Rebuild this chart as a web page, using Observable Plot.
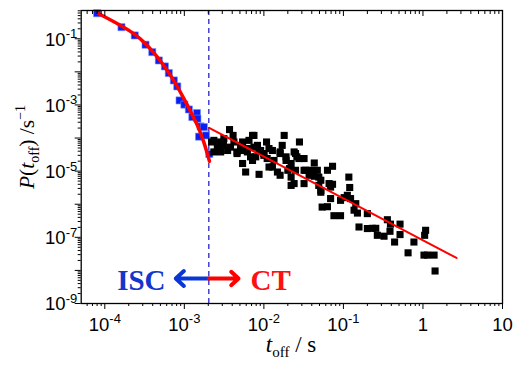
<!DOCTYPE html>
<html><head><meta charset="utf-8">
<script src="https://cdn.jsdelivr.net/npm/d3@7"></script>
<script src="https://cdn.jsdelivr.net/npm/@observablehq/plot@0.6"></script>
<style>body{margin:0;background:#fff} #chart{width:515px;height:365px}</style>
</head><body><div id="chart"></div>
<script>
// ISC data (blue squares)
const iscT = [8.0e-5,1.62e-4,2.38e-4,3.25e-4,3.95e-4,4.78e-4,5.69e-4,6.38e-4,7.38e-4,8.15e-4,8.7e-4,1.0e-3,1.14e-3,1.26e-3,1.44e-3,1.46e-3,1.60e-3,1.76e-3,1.53e-3,1.87e-3,2.06e-3];
const iscP = [0.59,0.224,0.126,0.066,0.0394,0.0221,0.0146,9.2e-3,5.5e-3,3.63e-3,1.37e-3,1.02e-3,7.3e-4,4.3e-4,5.7e-4,3.85e-4,2.25e-4,2.14e-4,1.1e-4,1.2e-4,3.3e-5];
// CT data (black squares)
const ctT = [3.7e-3,7.5e-3,1.8e-2,2.35e-3,2.86e-3,3.14e-3,4.2e-3,5.4e-3,6.5e-3,1.08e-2,2.8e-2,2.6e-3,2.7e-3,3.5e-3,3.8e-3,4.6e-3,5.1e-3,6.2e-3,8.3e-3,9.1e-3,
 1.0e-2,1.16e-2,1.6e-2,2.4e-2,2.6e-2,5.4e-3,5.9e-3,8.7e-3,1.28e-2,1.48e-2,1.6e-2,2.0e-2,2.2e-2,2.4e-2,2.35e-3,1.1e-2,1.34e-2,7.2e-3,7.9e-3,1.9e-2,
 2.2e-2,2.5e-2,2.2e-3,3.2e-2,4.3e-2,7.3e-2,3.2e-2,3.9e-2,4.7e-2,4.3e-2,5.2e-2,3.2e-2,5.2e-2,6.9e-2,7.3e-2,6.3e-2,0.117,0.12,0.112,0.102,
 0.123,0.092,0.143,0.136,0.15,6.9e-2,5.4e-2,6.3e-2,7.6e-2,0.092,0.2,0.157,0.2,0.231,0.255,0.267,0.324,0.357,0.39,0.385,
 0.515,0.515,0.44,0.65,0.77,1.05,1.08,1.03,1.14,1.38,1.42,4.1e-3,2.7e-3,3.1e-3,4.6e-3,7.2e-3,7.5e-3,8.7e-3,1.0e-2,2.86e-3,
 5.1e-3,6.2e-3,6.8e-3,1.7e-2,1.28e-2,1.6e-2,2.5e-2,1.9e-2,2.76e-2,1.16e-2,2.1e-2,3.35e-2,3.7e-2,4.9e-2,2.2e-2,4.9e-2,6.6e-2,5.2e-2];
const ctP = [1.8e-4,1.2e-4,1.2e-4,8.5e-5,7.6e-5,9.6e-5,7.6e-5,7.6e-5,8.5e-5,7.6e-5,7.6e-5,5.3e-5,4.2e-5,4.2e-5,5.3e-5,3.8e-5,4.2e-5,4.8e-5,6.0e-5,4.2e-5,
 3.4e-5,4.8e-5,3.8e-5,3.8e-5,2.7e-5,1.7e-5,9.4e-6,8.0e-6,1.33e-5,9.4e-6,7.5e-6,1.06e-5,6.6e-6,4.2e-6,3.8e-5,2.4e-5,2.1e-5,2.1e-5,2.7e-5,2.1e-5,
 1.7e-5,1.06e-5,7.6e-5,2.4e-5,1.76e-5,1.4e-5,1.06e-5,1.06e-5,1.06e-5,7.0e-6,5.3e-6,4.2e-6,2.6e-6,3.3e-6,4.0e-6,1.06e-5,6.6e-6,3.2e-6,1.86e-6,1.58e-6,
 1.48e-6,1.31e-6,1.04e-6,6.6e-7,5.4e-7,1.48e-6,8.2e-7,8.4e-7,4.5e-7,4.5e-7,5.2e-7,2.05e-7,1.84e-7,1.87e-7,1.87e-7,1.15e-7,1.08e-7,3.4e-7,2.5e-7,1.52e-7,
 2.5e-7,1.21e-7,7.2e-8,3.4e-8,7.2e-8,1.15e-7,1.63e-7,2.9e-8,2.9e-8,2.9e-8,9.6e-9,1.2e-4,6.8e-5,6.0e-5,3.4e-5,1.2e-4,5.3e-5,4.2e-5,3.0e-5,3.8e-5,
 6.0e-5,3.8e-5,2.7e-5,6.0e-5,4.2e-5,3.4e-5,3.4e-5,2.7e-5,2.4e-5,1.33e-5,1.19e-5,1.06e-5,7.5e-6,6.6e-6,3.7e-6,3.7e-6,4.2e-6,2.3e-6];
// Fit curves
const iscFitT = [8.4e-5,1.58e-4,2.32e-4,3.41e-4,4.56e-4,6.1e-4,7.76e-4,9.87e-4,1.26e-3,1.52e-3,1.76e-3,1.94e-3,2.07e-3];
const iscFitP = [0.57,0.252,0.142,0.0628,0.0282,0.011,4.4e-3,1.55e-3,5.0e-4,1.92e-4,7.4e-5,3.44e-5,1.98e-5];
const ctFitT = [2.05e-3, 2.64];
const ctFitP = [2.03e-4, 2.38e-8];
const thresholdT = 2.03e-3;
// Axis ticks
const xMajor = [1e-4,1e-3,1e-2,1e-1,1,10];
const xTickLabels = ["10^-4","10^-3","10^-2","10^-1","1","10"];
const yMajor = [1e-9,1e-8,1e-7,1e-6,1e-5,1e-4,1e-3,1e-2,1e-1];
const yLabeled = [1e-1,1e-3,1e-5,1e-7,1e-9];
const yTickLabels = ["10^-1","10^-3","10^-5","10^-7","10^-9"];
const xDomain = [5.05e-5, 10];
const yDomain = [1e-9, 0.714];
// Annotation
const annY = 5.7e-9, annTextY = 4.8e-9;
const iscArrowTip = 7.8e-4, ctArrowTip = 4.8e-3;
const iscLabelX = 5.8e-4, ctLabelX = 6.8e-3;

const minorOf = (lo, hi, dom) => {
  const out = [];
  for (let d = lo; d <= hi; d++) for (let k = 2; k <= 9; k++) {
    const v = k * Math.pow(10, d);
    if (v >= dom[0] && v <= dom[1]) out.push(v);
  }
  return out;
};
const xMinor = minorOf(-5, 0, xDomain);
const yMinor = minorOf(-9, -1, yDomain);

const iscData = iscT.map((t, i) => ({t, p: iscP[i]}));
const ctData = ctT.map((t, i) => ({t, p: ctP[i]}));
const iscFit = iscFitT.map((t, i) => ({t, p: iscFitP[i]}));
const ctFit = ctFitT.map((t, i) => ({t, p: ctFitP[i]}));
const xLab = new Map(xMajor.map((v, i) => [v, xTickLabels[i]]));
const yLab = new Map(yLabeled.map((v, i) => [v, yTickLabels[i]]));
const none = () => "";
const TF = 18.5;

const BLUE = "#0a1ef0", RED = "#ff0000";

const plot = Plot.plot({
  width: 515, height: 365,
  marginLeft: 80.7, marginRight: 13, marginTop: 10, marginBottom: 62,
  x: {type: "log", domain: xDomain, label: null},
  y: {type: "log", domain: yDomain, label: null},
  style: {fontFamily: "'Liberation Sans', Arial, sans-serif", fontSize: "18px", color: "black", background: "white"},
  marks: [
    Plot.ruleX([thresholdT], {stroke: "#3434cc", strokeWidth: 1.4, strokeDasharray: "5,4"}),
    Plot.dot(iscData, {x: "t", y: "p", symbol: "square", r: 4, fill: BLUE, stroke: "#7088ff", strokeWidth: 0.6}),
    Plot.dot(ctData, {x: "t", y: "p", symbol: "square", r: 4, fill: "black"}),
    Plot.line(iscFit, {x: "t", y: "p", stroke: RED, strokeWidth: 3.5, curve: "catmull-rom"}),
    Plot.line(ctFit, {x: "t", y: "p", stroke: RED, strokeWidth: 2}),
    Plot.arrow([{a: thresholdT, b: iscArrowTip, y: annY}], {x1: "a", x2: "b", y1: "y", y2: "y", stroke: "#0b36d6", strokeWidth: 4, headLength: 14, headAngle: 85}),
    Plot.arrow([{a: thresholdT, b: ctArrowTip, y: annY}], {x1: "a", x2: "b", y1: "y", y2: "y", stroke: RED, strokeWidth: 4, headLength: 14, headAngle: 85}),
    Plot.text([{x: iscLabelX, y: annTextY, s: "ISC"}], {x: "x", y: "y", text: "s", textAnchor: "end", fill: "#1336cc", fontSize: 29, fontWeight: "bold", fontFamily: "'Liberation Serif', 'Times New Roman', serif"}),
    Plot.text([{x: ctLabelX, y: annTextY, s: "CT"}], {x: "x", y: "y", text: "s", textAnchor: "start", fill: "#ff1010", fontSize: 29, fontWeight: "bold", fontFamily: "'Liberation Serif', 'Times New Roman', serif"}),
    Plot.frame({stroke: "black", strokeWidth: 1.3}),
    Plot.axisX(xMinor, {anchor: "bottom", tickSize: 3, tickFormat: none, label: null}),
    Plot.axisX(xMajor, {anchor: "bottom", tickSize: 6, tickFormat: none, label: null}),
    Plot.axisX(xMajor, {anchor: "bottom", tickSize: 0, tickPadding: 14, tickFormat: d => xLab.get(d), label: null}),
    Plot.axisX(xMinor, {anchor: "top", tickSize: 3, dy: 3, tickFormat: none, label: null}),
    Plot.axisX(xMajor, {anchor: "top", tickSize: 5, dy: 5, tickFormat: none, label: null}),
    Plot.axisY(yMinor, {anchor: "left", tickSize: 3, tickFormat: none, label: null}),
    Plot.axisY(yMajor, {anchor: "left", tickSize: 6, tickFormat: none, label: null}),
    Plot.axisY(yLabeled, {anchor: "left", tickSize: 0, tickPadding: 4, dy: 1, tickFormat: d => yLab.get(d), label: null})
  ]
});

// tick label size and superscript exponents
const tickTexts = new Set([...xTickLabels, ...yTickLabels]);
d3.select(plot).selectAll("text").each(function() {
  const s = this.textContent;
  if (!tickTexts.has(s)) return;
  const el = d3.select(this).attr("font-size", TF).style("font-size", TF + "px");
  const m = /^10\^(-?\d+)$/.exec(s);
  if (!m) return;
  el.text(null);
  el.append("tspan").text("10");
  el.append("tspan").attr("dy", -7.5).attr("font-size", 13).style("font-size", "13px").text(m[1]);
});

const serif = "'Liberation Serif', 'Times New Roman', serif";
const svg = d3.select(plot);
const yl = svg.append("text")
  .attr("transform", "translate(34,147) rotate(-90)")
  .attr("text-anchor", "middle").attr("font-family", serif).attr("font-size", 21.5).attr("fill", "black");
yl.append("tspan").attr("font-style", "italic").text("P");
yl.append("tspan").text("(");
yl.append("tspan").attr("font-style", "italic").text("t");
yl.append("tspan").attr("font-size", 14).attr("dy", 5).text("off");
yl.append("tspan").attr("dy", -5).text(") /s");
yl.append("tspan").attr("font-size", 14).attr("dy", -9).text("\u22121");

const xl = svg.append("text")
  .attr("x", 291).attr("y", 352)
  .attr("text-anchor", "middle").attr("font-family", serif).attr("font-size", 23).attr("fill", "black");
xl.append("tspan").attr("font-style", "italic").text("t");
xl.append("tspan").attr("font-size", 15).attr("dy", 5).text("off");
xl.append("tspan").attr("dy", -5).text(" / s");

document.getElementById("chart").appendChild(plot);
</script>
</body></html>
